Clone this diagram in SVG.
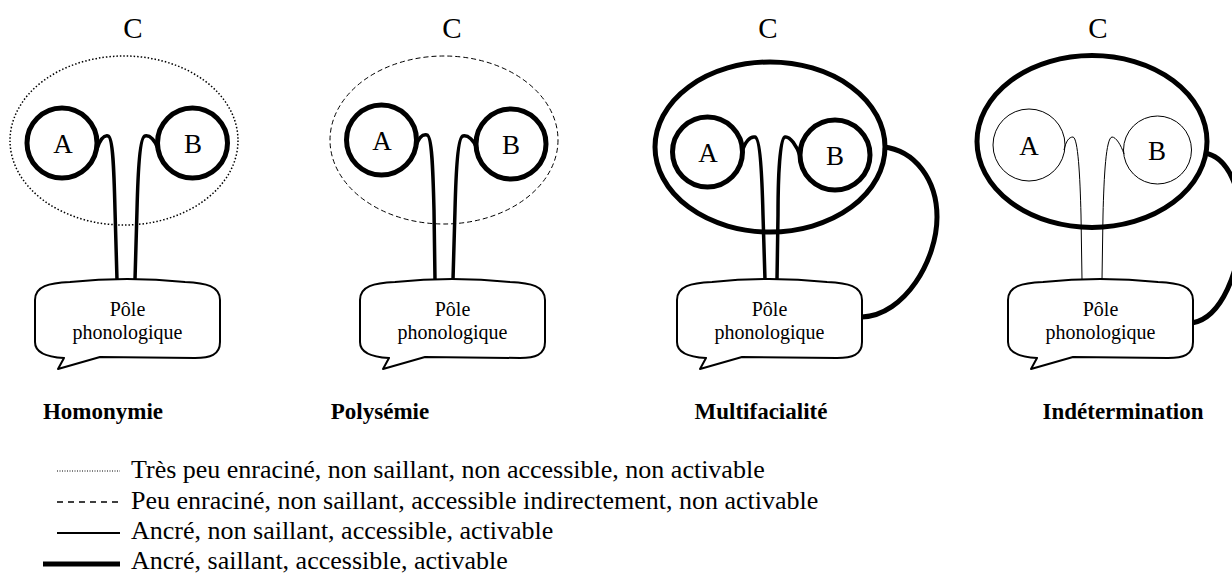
<svg xmlns="http://www.w3.org/2000/svg" width="1232" height="575" viewBox="0 0 1232 575">
<style>
.t{font-family:"Liberation Serif","Times New Roman",serif;fill:#000}
.c{font-size:29px;text-anchor:middle}
.ab{font-size:27px;text-anchor:middle}
.p{font-size:20px;text-anchor:middle}
.lab{font-size:23px;font-weight:bold;text-anchor:middle}
.leg{font-size:26px}
.thick{fill:none;stroke:#000;stroke-width:5}
.thin{fill:none;stroke:#000;stroke-width:1}
.stem{fill:none;stroke:#000;stroke-width:3.5}
.bub{fill:#fff;stroke:#000;stroke-width:2;stroke-linejoin:round}
.dot{fill:none;stroke:#000;stroke-width:1.5;stroke-dasharray:1.5 2}
.dash{fill:none;stroke:#000;stroke-width:1;stroke-dasharray:5 3}
</style>
<defs>
<path id="bubble" d="M0,20 C0,6 14,3 35,2 Q92,-4 150,2 C171,3 185,6 185,20 L185,62 C185,75 175,78 160,78 L65,77 L23,89 L29,78 C10,77 0,72 0,62 Z"/>
</defs>

<g id="connectors">
<path class="stem" d="M97,149 C100,140 104,135 108,136 C113,137 114,170 115,210 L117,280"/>
<path class="stem" d="M158,149 C155,140 150,135 145,136 C140,137 138,170 137,210 L135,280"/>
<path class="stem" d="M416,146 C419,137 423,134 427,135 C432,136 433,170 434,210 L435,280"/>
<path class="stem" d="M477,149 C474,140 468,135 463,136 C458,137 456,170 455,210 L453,280"/>
<path class="stem" d="M742,152 C745,142 750,136 755,137 C760,138 762,175 763,215 L765,280"/>
<path class="stem" d="M800,156 C797,146 790,136 785,137 C780,138 778,175 778,215 L777,280"/>
<path class="thin" d="M1064,150 C1066,141 1069,137 1073,137 C1078,138 1080,175 1081,215 L1082,280"/>
<path class="thin" d="M1124,154 C1121,145 1116,137 1112,137 C1106,138 1104,175 1103,215 L1102,280"/>
<path class="thick" d="M883,147 C915,150 937,180 937,217 C937,260 905,315 862,317"/>
<path class="thick" d="M1204,153 C1228,156 1242,190 1241,228 C1240,270 1222,318 1192,323"/>
</g>

<g id="panel-homonymie">
<text class="t c" x="133" y="38">C</text>
<ellipse class="dot" cx="124" cy="140.5" rx="114" ry="84.5"/>
<g id="h-A"><circle class="thick" cx="62" cy="143" r="35"/><text class="t ab" x="63" y="153">A</text></g>
<g id="h-B"><circle class="thick" cx="192.5" cy="143" r="35"/><text class="t ab" x="193" y="153">B</text></g>
<g id="h-pole"><use href="#bubble" class="bub" x="35" y="280"/><text class="t p" x="127.5" y="316">Pôle</text><text class="t p" x="127.5" y="339">phonologique</text></g>
<text class="t lab" x="103" y="419">Homonymie</text>
</g>

<g id="panel-polysemie">
<text class="t c" x="452" y="38">C</text>
<ellipse class="dash" cx="444" cy="140" rx="114" ry="84"/>
<g id="p-A"><circle class="thick" cx="381.5" cy="140" r="35"/><text class="t ab" x="382" y="150">A</text></g>
<g id="p-B"><circle class="thick" cx="511" cy="144" r="35"/><text class="t ab" x="511" y="154">B</text></g>
<g id="p-pole"><use href="#bubble" class="bub" x="360" y="280"/><text class="t p" x="452.5" y="316">Pôle</text><text class="t p" x="452.5" y="339">phonologique</text></g>
<text class="t lab" x="380" y="419">Polysémie</text>
</g>

<g id="panel-multifacialite">
<text class="t c" x="768" y="38">C</text>
<ellipse class="thick" cx="770" cy="147" rx="115" ry="85"/>
<g id="m-A"><circle class="thick" cx="707.5" cy="152" r="35"/><text class="t ab" x="708" y="162">A</text></g>
<g id="m-B"><circle class="thick" cx="835" cy="155" r="35"/><text class="t ab" x="835" y="165">B</text></g>
<g id="m-pole"><use href="#bubble" class="bub" x="677" y="280"/><text class="t p" x="769.5" y="316">Pôle</text><text class="t p" x="769.5" y="339">phonologique</text></g>
<text class="t lab" x="761" y="419">Multifacialité</text>
</g>

<g id="panel-indetermination">
<text class="t c" x="1098" y="38">C</text>
<ellipse class="thick" cx="1092" cy="141.5" rx="115" ry="86"/>
<g id="i-A"><circle class="thin" cx="1029" cy="145" r="36"/><text class="t ab" x="1029" y="155">A</text></g>
<g id="i-B"><circle class="thin" cx="1157.5" cy="150" r="34"/><text class="t ab" x="1157" y="160">B</text></g>
<g id="i-pole"><use href="#bubble" class="bub" x="1008" y="280"/><text class="t p" x="1100.5" y="316">Pôle</text><text class="t p" x="1100.5" y="339">phonologique</text></g>
<text class="t lab" x="1123" y="419">Indétermination</text>
</g>

<g id="legend">
<line x1="57" y1="471" x2="120" y2="471" stroke="#000" stroke-width="1" stroke-dasharray="1 1.5"/>
<line x1="57" y1="502" x2="120" y2="502" stroke="#000" stroke-width="1.5" stroke-dasharray="6 5"/>
<line x1="57" y1="533" x2="120" y2="533" stroke="#000" stroke-width="2"/>
<line x1="43" y1="564" x2="120" y2="564" stroke="#000" stroke-width="5"/>
<text class="t leg" x="131" y="478">Très peu enraciné, non saillant, non accessible, non activable</text>
<text class="t leg" x="131" y="509">Peu enraciné, non saillant, accessible indirectement, non activable</text>
<text class="t leg" x="131" y="539">Ancré, non saillant, accessible, activable</text>
<text class="t leg" x="131" y="569">Ancré, saillant, accessible, activable</text>
</g>
</svg>
